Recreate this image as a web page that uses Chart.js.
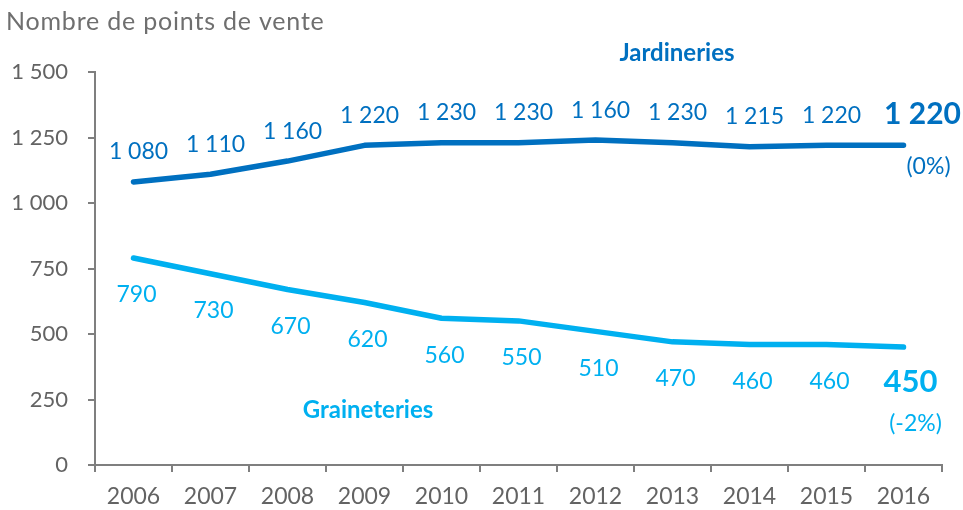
<!DOCTYPE html>
<html>
<head>
<meta charset="utf-8">
<script src="https://cdn.jsdelivr.net/npm/chart.js@4/dist/chart.umd.min.js"></script>
<style>
  html, body { margin: 0; padding: 0; background: #fff; }
  #wrap { width: 963px; height: 510px; position: relative; }
</style>
</head>
<body>
<div id="wrap"><canvas id="growthChart" width="963" height="510"></canvas></div>
<script>
// données
const years = ['2006', '2007', '2008', '2009', '2010', '2011', '2012', '2013', '2014', '2015', '2016'];
const jardineries = [1080, 1110, 1160, 1220, 1230, 1230, 1240, 1230, 1215, 1220, 1220];
const jardineriesLabels = ['1 080', '1 110', '1 160', '1 220', '1 230', '1 230', '1 160', '1 230', '1 215', '1 220', '1 220'];
const graineteries = [790, 730, 670, 620, 560, 550, 510, 470, 460, 460, 450];
const graineteriesLabels = ['790', '730', '670', '620', '560', '550', '510', '470', '460', '460', '450'];
const yTicks = [0, 250, 500, 750, 1000, 1250, 1500];
const variations = ['(0%)', '(-2%)'];

const DARK = '#0070C0';
const LIGHT = '#00B0F0';
const GREY = '#636363';
const AXIS = '#7F7F7F';
const FONT = 'Lato, "Open Sans", sans-serif';

function fmt(v) {
    return String(v).replace(/\B(?=(\d{3})+(?!\d))/g, ' ');
}

// étiquettes et textes
const labelPlugin = {
    id: 'labels',
    afterDatasetsDraw(chart) {
        const ctx = chart.ctx;
        const last = years.length - 1;
        ctx.save();
        ctx.textAlign = 'center';
        ctx.textBaseline = 'middle';

        const m0 = chart.getDatasetMeta(0).data;
        const m1 = chart.getDatasetMeta(1).data;

        m0.forEach((pt, i) => {
            ctx.fillStyle = DARK;
            if (i === last) {
                ctx.font = 'bold 30px ' + FONT;
                ctx.fillText(jardineriesLabels[i], pt.x + 19, pt.y - 31);
                ctx.font = '23px ' + FONT;
                ctx.fillText(variations[0], pt.x + 25, pt.y + 21);
            } else {
                ctx.font = '23px ' + FONT;
                ctx.fillText(jardineriesLabels[i], pt.x + 5, pt.y - 30);
            }
        });

        m1.forEach((pt, i) => {
            ctx.fillStyle = LIGHT;
            if (i === last) {
                ctx.font = 'bold 31px ' + FONT;
                ctx.fillText(graineteriesLabels[i], pt.x + 7, pt.y + 35);
                ctx.font = '23px ' + FONT;
                ctx.fillText(variations[1], pt.x + 12, pt.y + 76);
            } else {
                ctx.font = '23px ' + FONT;
                ctx.fillText(graineteriesLabels[i], pt.x + 3, pt.y + 37);
            }
        });

        // noms des séries
        ctx.font = 'bold 24px ' + FONT;
        ctx.fillStyle = DARK;
        ctx.fillText('Jardineries', 677, 53);
        ctx.fillStyle = LIGHT;
        ctx.fillText('Graineteries', 368, 410);

        // titre de l'axe
        ctx.textAlign = 'left';
        ctx.font = '25px ' + FONT;
        ctx.letterSpacing = '0.8px';
        ctx.fillStyle = '#6F6F6F';
        ctx.fillText('Nombre de points de vente', 6, 22);
        ctx.restore();
    }
};

const ctx = document.getElementById('growthChart').getContext('2d');
new Chart(ctx, {
    type: 'line',
    data: {
        labels: years,
        datasets: [
            {
                label: 'Jardineries',
                data: jardineries,
                borderColor: DARK,
                borderWidth: 5.5,
                pointRadius: 0,
                tension: 0,
                borderCapStyle: 'round',
                borderJoinStyle: 'round'
            },
            {
                label: 'Graineteries',
                data: graineteries,
                borderColor: LIGHT,
                borderWidth: 5.5,
                pointRadius: 0,
                tension: 0,
                borderCapStyle: 'round',
                borderJoinStyle: 'round'
            }
        ]
    },
    options: {
        responsive: false,
        animation: false,
        layout: { padding: { top: 72, right: 21, left: 0, bottom: 0 } },
        plugins: {
            legend: { display: false },
            tooltip: { enabled: false }
        },
        scales: {
            x: {
                offset: true,
                grid: {
                    offset: true,
                    drawOnChartArea: false,
                    drawTicks: true,
                    tickLength: 7,
                    color: AXIS,
                    lineWidth: 2
                },
                border: { color: AXIS, width: 2 },
                ticks: {
                    color: GREY,
                    font: { family: FONT, size: 23 },
                    padding: 11,
                    maxRotation: 0
                },
                afterFit(scale) { scale.height = 45; }
            },
            y: {
                min: 0,
                max: 1500,
                afterBuildTicks(scale) {
                    scale.ticks = yTicks.map(v => ({ value: v }));
                },
                grid: {
                    drawOnChartArea: false,
                    drawTicks: true,
                    tickLength: 7,
                    color: AXIS,
                    lineWidth: 2
                },
                border: { color: AXIS, width: 2 },
                ticks: {
                    color: GREY,
                    font: { family: FONT, size: 22 },
                    padding: 20,
                    callback: v => fmt(v)
                },
                afterFit(scale) { scale.width = 95; }
            }
        }
    },
    plugins: [labelPlugin]
});
</script>
</body>
</html>
